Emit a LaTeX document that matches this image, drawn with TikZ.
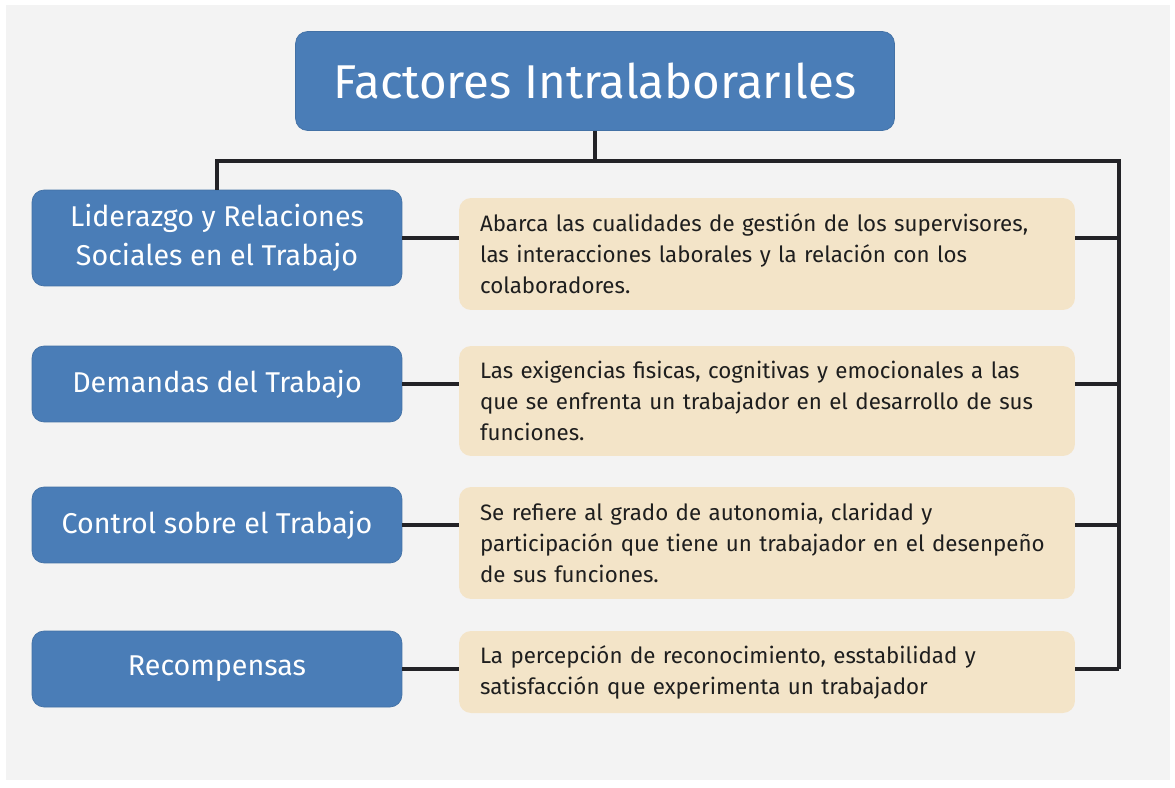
\documentclass[tikz,border=0pt]{standalone}
\usepackage{fontspec}
\setmainfont{Fira Sans}
\usepackage{xcolor}
\definecolor{fondo}{RGB}{243, 243, 243}
\definecolor{azul}{RGB}{74, 125, 183}
\definecolor{crema}{RGB}{243, 228, 200}
\definecolor{linea}{RGB}{34, 34, 38}
\definecolor{texto}{RGB}{30, 30, 30}

\tikzset{
  titulo/.style={fill=azul, draw=azul!90!black, rounded corners=0.24cm, text=white,
    minimum width=11.98cm, minimum height=1.98cm, font=\fontsize{27}{31}\selectfont},
  factor/.style={fill=azul, draw=azul!90!black, rounded corners=0.24cm, text=white,
    minimum width=7.4cm, minimum height=1.52cm, align=center,
    font=\fontsize{16.3}{22}\selectfont},
  nota/.style={fill=crema, rounded corners=0.24cm, text=texto, text width=11.48cm,
    inner xsep=0.42cm, align=left, font=\fontsize{12.7}{17.6}\selectfont},
  conector/.style={draw=linea, line width=1.8pt}
}

\begin{document}
\begin{tikzpicture}[x=0.02cm, y=-0.02cm]
  \useasboundingbox (0,0) rectangle (1175,787);
  \fill[fondo] (6,5) rectangle (1170,780);

  \node[titulo] (tit) at (595,81) {Factores Intralaborarıles};

  \node[factor, minimum height=1.92cm] (f1) at (217,238) {Liderazgo y Relaciones\\Sociales en el Trabajo};
  \node[factor] (f2) at (217,384) {Demandas del Trabajo};
  \node[factor] (f3) at (217,525) {Control sobre el Trabajo};
  \node[factor] (f4) at (217,669) {Recompensas};

  \node[nota, minimum height=2.24cm] (n1) at (767,254) {Abarca las cualidades de gestión de los supervisores,\\las interacciones laborales y la relación con los\\colaboradores.};
  \node[nota, minimum height=2.2cm] (n2) at (767,401) {Las exigencias fisicas, cognitivas y emocionales a las\\que se enfrenta un trabajador en el desarrollo de sus\\funciones.};
  \node[nota, minimum height=2.24cm] (n3) at (767,543) {Se refiere al grado de autonomia, claridad y\\participación que tiene un trabajador en el desenpeño\\de sus funciones.};
  \node[nota, minimum height=1.64cm] (n4) at (767,672) {La percepción de reconocimiento, esstabilidad y\\satisfacción que experimenta un trabajador};

  \coordinate (bus) at (1119,161);
  \draw[conector] (tit.south) -- (tit.south |- bus);
  \draw[conector] (f1.north) |- (bus) -- (bus |- f4.east);
  \foreach \i in {1,...,4} {
    \draw[conector] (f\i.east) -- (f\i.east -| n\i.west);
    \draw[conector] (f\i.east -| n\i.east) -- (f\i.east -| bus);
  }
\end{tikzpicture}
\end{document}
